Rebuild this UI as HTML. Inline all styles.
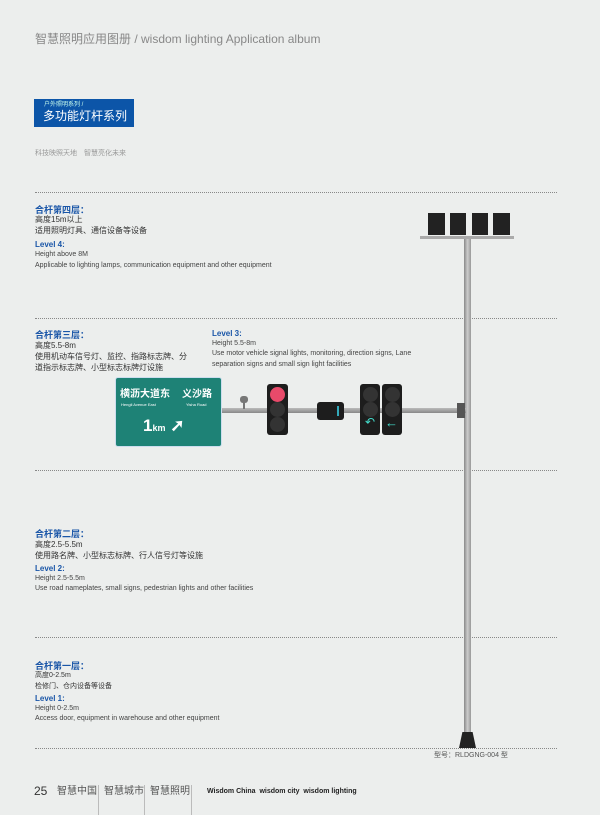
<!DOCTYPE html>
<html><head><meta charset="utf-8"><style>
body{margin:0;width:600px;height:815px;background:#eceeed;position:relative;overflow:hidden;font-family:"Liberation Sans","Noto Sans CJK SC",sans-serif;color:#444;line-height:1.15}
.a{position:absolute;white-space:nowrap}
.h{color:#1a56a8;font-weight:bold;font-size:9px}
.t{font-size:8px;color:#333}
.e{font-size:7px;color:#444}
.d{position:absolute;left:35px;width:522px;border-top:1px dotted #888}
.tl{position:absolute;background:#1d1d1d;border-radius:3px}
.l{position:absolute;left:3px;width:15px;height:15px;border-radius:50%;background:#333}
</style></head><body>
<div class="a" style="left:35px;top:33px;font-size:12px;color:#888">智慧照明应用图册 / wisdom lighting Application album</div>
<div class="a" style="left:34px;top:99px;width:100px;height:28px;background:#0c55a8"></div>
<div class="a" style="left:44px;top:102px;font-size:6px;color:#cfe">户外照明系列 /</div>
<div class="a" style="left:43px;top:110px;font-size:12px;color:#fff">多功能灯杆系列</div>
<div class="a" style="left:35px;top:150px;font-size:7px;color:#999">科技映照天地　智慧亮化未来</div>

<div class="d" style="top:192px"></div>
<div class="d" style="top:318px"></div>
<div class="d" style="top:470px"></div>
<div class="d" style="top:637px"></div>
<div class="d" style="top:748px"></div>

<div class="a h" style="left:35px;top:205px">合杆第四层：</div>
<div class="a t" style="left:35px;top:215px">高度15m以上</div>
<div class="a t" style="left:35px;top:226px">适用照明灯具、通信设备等设备</div>
<div class="a h" style="left:35px;top:240px;font-size:8px">Level 4:</div>
<div class="a e" style="left:35px;top:251px">Height above 8M</div>
<div class="a e" style="left:35px;top:262px">Applicable to lighting lamps, communication equipment and other equipment</div>

<div class="a h" style="left:35px;top:330px">合杆第三层：</div>
<div class="a t" style="left:35px;top:341px">高度5.5-8m</div>
<div class="a t" style="left:35px;top:352px">使用机动车信号灯、监控、指路标志牌、分</div>
<div class="a t" style="left:35px;top:363px">道指示标志牌、小型标志标牌灯设施</div>
<div class="a h" style="left:212px;top:329px;font-size:8px">Level 3:</div>
<div class="a e" style="left:212px;top:340px">Height 5.5-8m</div>
<div class="a e" style="left:212px;top:350px">Use motor vehicle signal lights, monitoring, direction signs, Lane</div>
<div class="a e" style="left:212px;top:361px">separation signs and small sign light facilities</div>

<div class="a h" style="left:35px;top:529px">合杆第二层：</div>
<div class="a t" style="left:35px;top:540px">高度2.5-5.5m</div>
<div class="a t" style="left:35px;top:551px">使用路名牌、小型标志标牌、行人信号灯等设施</div>
<div class="a h" style="left:35px;top:564px;font-size:8px">Level 2:</div>
<div class="a e" style="left:35px;top:575px">Height 2.5-5.5m</div>
<div class="a e" style="left:35px;top:585px">Use road nameplates, small signs, pedestrian lights and other facilities</div>

<div class="a h" style="left:35px;top:661px">合杆第一层：</div>
<div class="a t" style="left:35px;top:672px;font-size:7px">高度0-2.5m</div>
<div class="a t" style="left:35px;top:683px;font-size:7px">检修门、仓内设备等设备</div>
<div class="a h" style="left:35px;top:694px;font-size:8px">Level 1:</div>
<div class="a e" style="left:35px;top:705px">Height 0-2.5m</div>
<div class="a e" style="left:35px;top:715px">Access door, equipment in warehouse and other equipment</div>

<!-- pole -->
<div class="a" style="left:464px;top:238px;width:7px;height:497px;background:linear-gradient(90deg,#888,#ccc,#999)"></div>
<div class="a" style="left:459px;top:732px;width:17px;height:16px;background:#222;clip-path:polygon(20% 0,80% 0,100% 100%,0 100%)"></div>
<div class="a" style="left:420px;top:236px;width:94px;height:3px;background:#aaa"></div>
<div class="a" style="left:428px;top:213px;width:17px;height:22px;background:#222"></div>
<div class="a" style="left:450px;top:213px;width:16px;height:22px;background:#222"></div>
<div class="a" style="left:472px;top:213px;width:16px;height:22px;background:#222"></div>
<div class="a" style="left:493px;top:213px;width:17px;height:22px;background:#222"></div>

<!-- arm -->
<div class="a" style="left:222px;top:408px;width:244px;height:5px;background:linear-gradient(#bbb,#888)"></div>
<div class="a" style="left:457px;top:403px;width:8px;height:15px;background:#555"></div>
<div class="a" style="left:240px;top:396px;width:8px;height:7px;background:#777;border-radius:3px"></div>
<div class="a" style="left:243px;top:403px;width:2px;height:6px;background:#777"></div>

<!-- sign -->
<div class="a" style="left:115px;top:377px;width:105px;height:68px;background:#1e8276;border:1px solid #cde;border-radius:3px"></div>
<div class="a" style="left:120px;top:389px;font-size:10px;font-weight:bold;color:#fff">横沥大道东</div>
<div class="a" style="left:182px;top:389px;font-size:10px;font-weight:bold;color:#fff">义沙路</div>
<div class="a" style="left:121px;top:403px;font-size:4px;color:#fff">Hengli Avenue East</div>
<div class="a" style="left:186px;top:403px;font-size:4px;color:#fff">Yisha Road</div>
<div class="a" style="left:143px;top:416px;font-size:17px;font-weight:bold;color:#fff">1<span style="font-size:9px">km</span> ➚</div>

<!-- traffic lights -->
<div class="tl" style="left:267px;top:384px;width:21px;height:51px"><div class="l" style="top:3px;background:#e84a6a"></div><div class="l" style="top:18px"></div><div class="l" style="top:33px"></div></div>
<div class="tl" style="left:317px;top:402px;width:27px;height:18px"><div class="a" style="left:20px;top:4px;width:2px;height:10px;background:#3ab"></div></div>
<div class="tl" style="left:360px;top:384px;width:20px;height:51px"><div class="l" style="top:3px"></div><div class="l" style="top:18px"></div><div class="a" style="left:5px;top:32px;color:#4dc;font-size:12px">↶</div></div>
<div class="tl" style="left:382px;top:384px;width:20px;height:51px"><div class="l" style="top:3px"></div><div class="l" style="top:18px"></div><div class="a" style="left:3px;top:32px;color:#4dc;font-size:13px;font-weight:bold">←</div></div>

<div class="a" style="left:434px;top:752px;font-size:7px;color:#555">型号：RLDGNG-004 型</div>
<div class="a" style="left:34px;top:785px;font-size:12px;color:#333">25</div>
<div class="a" style="left:57px;top:786px;font-size:10px;color:#555">智慧中国</div>
<div class="a" style="left:98px;top:785px;width:1px;height:30px;background:#bbb"></div>
<div class="a" style="left:104px;top:786px;font-size:10px;color:#555">智慧城市</div>
<div class="a" style="left:144px;top:785px;width:1px;height:30px;background:#bbb"></div>
<div class="a" style="left:150px;top:786px;font-size:10px;color:#555">智慧照明</div>
<div class="a" style="left:191px;top:785px;width:1px;height:30px;background:#bbb"></div>
<div class="a" style="left:207px;top:788px;font-size:7px;font-weight:bold;color:#222">Wisdom China&nbsp; wisdom city&nbsp; wisdom lighting</div>
</body></html>
